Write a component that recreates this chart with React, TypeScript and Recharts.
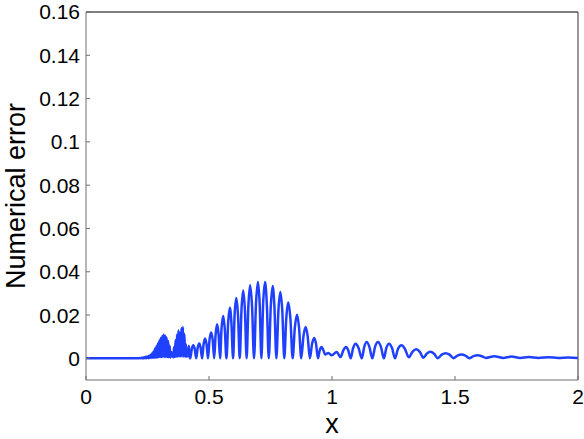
import React from 'react';
import { LineChart, Line, XAxis, YAxis, ReferenceLine } from 'recharts';

const flatX = [0, 0.05, 0.1, 0.15, 0.2, 0.215];
const flatErr = [0, 0, 0, 0, 0, 0.0001];

const blobX = [
  0.220, 0.223, 0.226, 0.229, 0.232, 0.235, 0.238, 0.241, 0.244, 0.247,
  0.250, 0.253, 0.256, 0.259, 0.262, 0.265, 0.268, 0.271, 0.274, 0.277,
  0.280, 0.283, 0.286, 0.289, 0.292, 0.295, 0.298, 0.301, 0.304, 0.307,
  0.310, 0.313, 0.316, 0.319, 0.322, 0.325, 0.328, 0.331, 0.334, 0.337,
  0.340, 0.343, 0.346, 0.349, 0.352, 0.355, 0.358, 0.361, 0.364, 0.367,
  0.370, 0.373, 0.376, 0.379, 0.382, 0.385, 0.388, 0.391, 0.394, 0.397,
  0.400, 0.403, 0.406, 0.409, 0.412, 0.415, 0.418, 0.421,
];
const blobErr = [
  0.0002, 0.0000, 0.0003, 0.0000, 0.0004, 0.0000, 0.0005, 0.0001, 0.0007, 0.0001,
  0.0009, 0.0001, 0.0012, 0.0002, 0.0016, 0.0002, 0.0022, 0.0003, 0.0031, 0.0003,
  0.0044, 0.0004, 0.0056, 0.0004, 0.0069, 0.0005, 0.0083, 0.0005, 0.0095, 0.0006,
  0.0104, 0.0006, 0.0110, 0.0006, 0.0106, 0.0006, 0.0096, 0.0006, 0.0080, 0.0005,
  0.0058, 0.0004, 0.0030, 0.0010, 0.0022, 0.0005, 0.0052, 0.0006, 0.0084, 0.0007,
  0.0110, 0.0007, 0.0130, 0.0008, 0.0118, 0.0008, 0.0140, 0.0008, 0.0145, 0.0008,
  0.0112, 0.0007, 0.0065, 0.0008, 0.0032, 0.0010, 0.0058, 0.0012,
];

const archX = [
  0.424, 0.430, 0.436, 0.442, 0.448, 0.454, 0.461, 0.466, 0.472, 0.478,
  0.484, 0.490, 0.496, 0.502, 0.509, 0.515, 0.521, 0.527, 0.533, 0.539,
  0.545, 0.551, 0.558, 0.564, 0.571, 0.578, 0.585, 0.591, 0.598, 0.604,
  0.611, 0.618, 0.625, 0.632, 0.639, 0.646, 0.653, 0.660, 0.667, 0.675,
  0.683, 0.691, 0.699, 0.706, 0.713, 0.720, 0.728, 0.735, 0.743, 0.751,
  0.759, 0.766, 0.774, 0.782, 0.790, 0.798, 0.806, 0.814, 0.822, 0.831,
  0.840, 0.849, 0.858, 0.866, 0.875, 0.884, 0.893, 0.901, 0.910, 0.919,
  0.928, 0.935, 0.943, 0.950, 0.958, 0.965, 0.972,
];
const archErr = [
  0, 0.0043, 0.0060, 0.0043, 0, 0.0049, 0.0069, 0.0049, 0, 0.0065,
  0.0092, 0.0065, 0, 0.0085, 0.0120, 0.0085, 0, 0.0111, 0.0157, 0.0111,
  0, 0.0139, 0.0196, 0.0139, 0, 0.0166, 0.0234, 0.0166, 0, 0.0198,
  0.0279, 0.0198, 0, 0.0223, 0.0314, 0.0223, 0, 0.0240, 0.0338, 0.0240,
  0, 0.0251, 0.0353, 0.0251, 0, 0.0251, 0.0353, 0.0251, 0, 0.0237,
  0.0334, 0.0237, 0, 0.0218, 0.0307, 0.0218, 0, 0.0183, 0.0258, 0.0183,
  0, 0.0143, 0.0202, 0.0143, 0, 0.0103, 0.0145, 0.0103, 0, 0.0067,
  0.0094, 0.0067, 0, 0.0037, 0.0052, 0.0037, 0.0018,
];

const tailX = [
  0.985, 0.999, 1.019, 1.035, 1.046, 1.057, 1.066, 1.076, 1.086, 1.096,
  1.108, 1.121, 1.131, 1.141, 1.152, 1.164, 1.175, 1.187, 1.199, 1.211,
  1.221, 1.232, 1.244, 1.256, 1.268, 1.283, 1.297, 1.312, 1.327, 1.342,
  1.357, 1.371, 1.386, 1.400, 1.415, 1.430, 1.446, 1.462, 1.478, 1.494,
  1.510, 1.526, 1.542, 1.558, 1.575, 1.592, 1.609, 1.626, 1.660, 1.695,
  1.730, 1.765, 1.800, 1.840, 1.880, 1.920, 1.960, 2.000,
];
const tailErr = [
  0.0025, 0.0014, 0.0029, 0.0006, 0.0037, 0.0052, 0.0037, 0.0000, 0.0048, 0.0068,
  0.0048, 0.0000, 0.0053, 0.0075, 0.0053, 0.0000, 0.0053, 0.0075, 0.0053, 0.0000,
  0.0048, 0.0068, 0.0048, 0.0000, 0.0043, 0.0060, 0.0042, 0.0005, 0.0030, 0.0042,
  0.0030, 0.0003, 0.0022, 0.0030, 0.0021, 0.0001, 0.0017, 0.0024, 0.0017, 0.0001,
  0.0013, 0.0018, 0.0013, 0.0001, 0.0010, 0.0014, 0.0010, 0.0002, 0.0010, 0.0002,
  0.0008, 0.0002, 0.0006, 0.0002, 0.0005, 0.0002, 0.0004, 0.0002,
];

const xTicks = [0, 0.5, 1, 1.5, 2];
const yTicks = [0, 0.02, 0.04, 0.06, 0.08, 0.1, 0.12, 0.14, 0.16];

const allX = [...flatX, ...blobX, ...archX, ...tailX];
const allErr = [...flatErr, ...blobErr, ...archErr, ...tailErr];
const data = allX.map((x, i) => ({ x, err: allErr[i] }));

const FONT = 'Liberation Sans, Arial, Helvetica, sans-serif';

export default function App() {
  return (
    <div style={{ position: 'absolute', left: 0, top: 0, width: 584, height: 439, background: '#fff' }}>
      <LineChart
        width={584}
        height={439}
        data={data}
        margin={{ top: 12, right: 6, bottom: 0, left: 0 }}
        style={{ background: '#fff', overflow: 'visible' }}
      >
        <XAxis
          type="number"
          dataKey="x"
          domain={[0, 2]}
          ticks={xTicks}
          height={59}
          stroke="#6e6e6e"
          tickSize={-4}
          tickMargin={13}
          tick={{ fill: '#000', fontSize: 21, fontFamily: FONT }}
          interval={0}
          allowDataOverflow
        />
        <YAxis
          type="number"
          domain={[-0.01, 0.16]}
          ticks={yTicks}
          width={86}
          stroke="#6e6e6e"
          tickSize={-4}
          tickMargin={10}
          tick={{ fill: '#000', fontSize: 21, fontFamily: FONT }}
          interval={0}
          allowDataOverflow
        />
        <ReferenceLine y={0.16} stroke="#000" strokeWidth={1} />
        <ReferenceLine x={2} stroke="#333" strokeWidth={1} />
        <Line
          type="monotone"
          dataKey="err"
          stroke="#2040ff"
          strokeWidth={2.5}
          dot={false}
          isAnimationActive={false}
        />
        <text x={332} y={433} textAnchor="middle" fontSize={27} fontFamily={FONT} fill="#000">x</text>
        <text
          x={25}
          y={196}
          textAnchor="middle"
          fontSize={27}
          fontFamily={FONT}
          fill="#000"
          transform="rotate(-90, 25, 196)"
        >
          Numerical error
        </text>
      </LineChart>
    </div>
  );
}
